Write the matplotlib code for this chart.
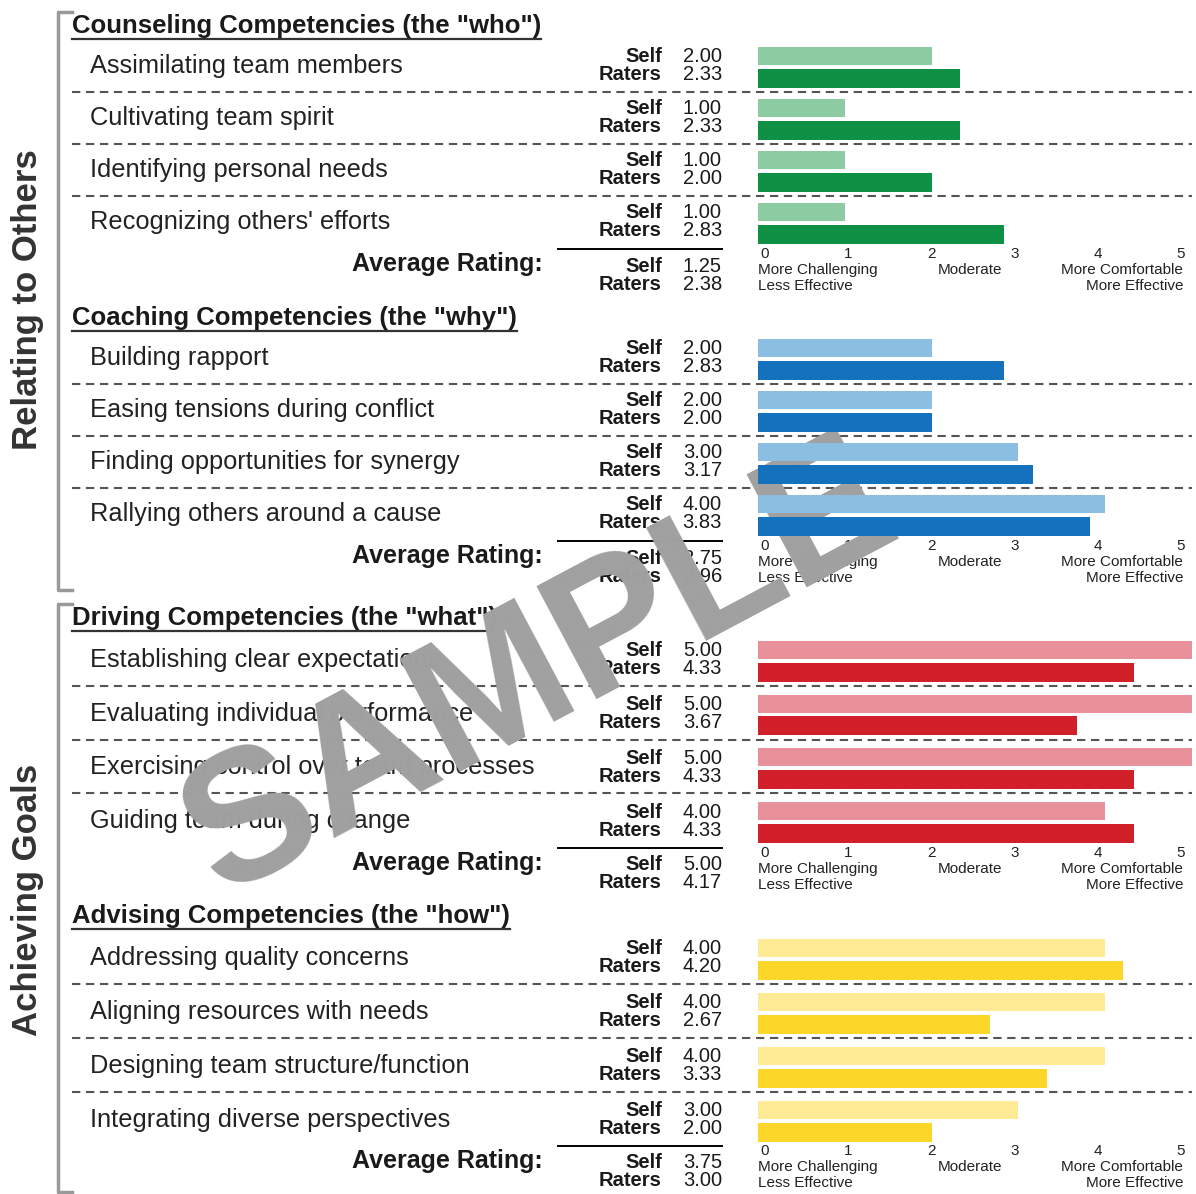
import matplotlib
matplotlib.use("Agg")
import matplotlib.pyplot as plt

plt.rcParams['font.family'] = ['Liberation Sans', 'DejaVu Sans']

# data
group_names = ['Relating to Others', 'Achieving Goals']
section_titles = ['Counseling Competencies (the "who")',
                  'Coaching Competencies (the "why")',
                  'Driving Competencies (the "what")',
                  'Advising Competencies (the "how")']
counseling_items = ['Assimilating team members', 'Cultivating team spirit',
                    'Identifying personal needs', "Recognizing others' efforts"]
coaching_items = ['Building rapport', 'Easing tensions during conflict',
                  'Finding opportunities for synergy', 'Rallying others around a cause']
driving_items = ['Establishing clear expectations', 'Evaluating individual performance',
                 'Exercising control over team processes', 'Guiding team during change']
advising_items = ['Addressing quality concerns', 'Aligning resources with needs',
                  'Designing team structure/function', 'Integrating diverse perspectives']

counseling_self = [2.00, 1.00, 1.00, 1.00]
counseling_raters = [2.33, 2.33, 2.00, 2.83]
coaching_self = [2.00, 2.00, 3.00, 4.00]
coaching_raters = [2.83, 2.00, 3.17, 3.83]
driving_self = [5.00, 5.00, 5.00, 4.00]
driving_raters = [4.33, 3.67, 4.33, 4.33]
advising_self = [4.00, 4.00, 4.00, 3.00]
advising_raters = [4.20, 2.67, 3.33, 2.00]

avg_self = [1.25, 2.75, 5.00, 3.75]
avg_raters = [2.38, 2.96, 4.17, 3.00]

scale_ticks = [0, 1, 2, 3, 4, 5]

light_colors = ['#8dcba3', '#8cbee1', '#e8919a', '#ffeb96']
dark_colors = ['#0f9145', '#1371be', '#d2202a', '#fcd72a']

items = [counseling_items, coaching_items, driving_items, advising_items]
selfs = [counseling_self, coaching_self, driving_self, advising_self]
raters = [counseling_raters, coaching_raters, driving_raters, advising_raters]

# layout (pixel coords)
header_y = [26, 318, 618, 916]
first_row = [66, 358, 660, 958]
row_step = [52, 52, 53.7, 54]
avg_y = [264, 556, 863, 1161]

W, H = 1196, 1194
fig = plt.figure(figsize=(W / 100, H / 100), dpi=100)

ax = fig.add_axes([0, 0, 1, 1])
ax.set_xlim(0, W)
ax.set_ylim(H, 0)
ax.axis('off')

# bars live in their own axes: x is the 0..5 rating scale
bx = fig.add_axes([758 / W, 0, (1192 - 758) / W, 1])
bx.set_xlim(0, 5)
bx.set_ylim(H, 0)
bx.axis('off')

renderer = fig.canvas.get_renderer()
txt = '#1a1a1a'

for s in range(4):
    t = ax.text(72, header_y[s], section_titles[s], fontsize=18.5, fontweight='bold',
                va='center', ha='left', color=txt)
    bb = t.get_window_extent(renderer)
    ax.plot([72, 72 + bb.width], [header_y[s] + 13, header_y[s] + 13], color='#333333', lw=1.6)

    for i, name in enumerate(items[s]):
        c = first_row[s] + i * row_step[s]
        ax.text(90, c, name, fontsize=18.3, va='center', ha='left', color='#222222')
        ax.text(662, c - 9, 'Self', fontsize=14.5, fontweight='bold', ha='right', va='center', color=txt)
        ax.text(662, c + 9, 'Raters', fontsize=14.5, fontweight='bold', ha='right', va='center', color=txt)
        ax.text(722, c - 9, f'{selfs[s][i]:.2f}', fontsize=14.5, ha='right', va='center', color=txt)
        ax.text(722, c + 9, f'{raters[s][i]:.2f}', fontsize=14.5, ha='right', va='center', color=txt)
        bx.barh(c - 10, selfs[s][i], height=18, left=0, color=light_colors[s])
        bx.barh(c + 12, raters[s][i], height=19, left=0, color=dark_colors[s])
        if i < len(items[s]) - 1:
            ax.plot([72, 1192], [c + 26, c + 26], color='#555555', lw=1.5,
                    linestyle=(0, (4, 2.7)))

    a = avg_y[s]
    ax.plot([558, 722], [a - 15, a - 15], color='black', lw=1.4)
    ax.text(543, a, 'Average Rating:', fontsize=18, fontweight='bold', ha='right', va='center', color=txt)
    ax.text(662, a + 2, 'Self', fontsize=14.5, fontweight='bold', ha='right', va='center', color=txt)
    ax.text(662, a + 20, 'Raters', fontsize=14.5, fontweight='bold', ha='right', va='center', color=txt)
    ax.text(722, a + 2, f'{avg_self[s]:.2f}', fontsize=14.5, ha='right', va='center', color=txt)
    ax.text(722, a + 20, f'{avg_raters[s]:.2f}', fontsize=14.5, ha='right', va='center', color=txt)

    for k in scale_ticks:
        ax.text(765 + k * 83.2, a - 10, str(k), fontsize=11, ha='center', va='center', color='#222222')
    ax.text(758, a + 6, 'More Challenging', fontsize=11, ha='left', va='center', color='#222222')
    ax.text(758, a + 22, 'Less Effective', fontsize=11, ha='left', va='center', color='#222222')
    ax.text(970, a + 6, 'Moderate', fontsize=11, ha='center', va='center', color='#222222')
    ax.text(1183, a + 6, 'More Comfortable', fontsize=11, ha='right', va='center', color='#222222')
    ax.text(1183, a + 22, 'More Effective', fontsize=11, ha='right', va='center', color='#222222')

# group brackets
for (y0, y1), label, yc in [((12, 590), group_names[0], 300), ((604, 1192), group_names[1], 900)]:
    ax.plot([72, 58, 58, 72], [y0, y0, y1, y1], color='#999999', lw=2.5)
    ax.text(28, yc, label, fontsize=25, fontweight='bold', rotation=90,
            ha='center', va='center', color='#333333')

# watermark
ax.text(541, 672, 'SAMPLE', fontsize=134, fontweight='bold', rotation=28,
        ha='center', va='center', color='#a0a0a0', zorder=10)

fig.savefig('out.png', dpi=100)
